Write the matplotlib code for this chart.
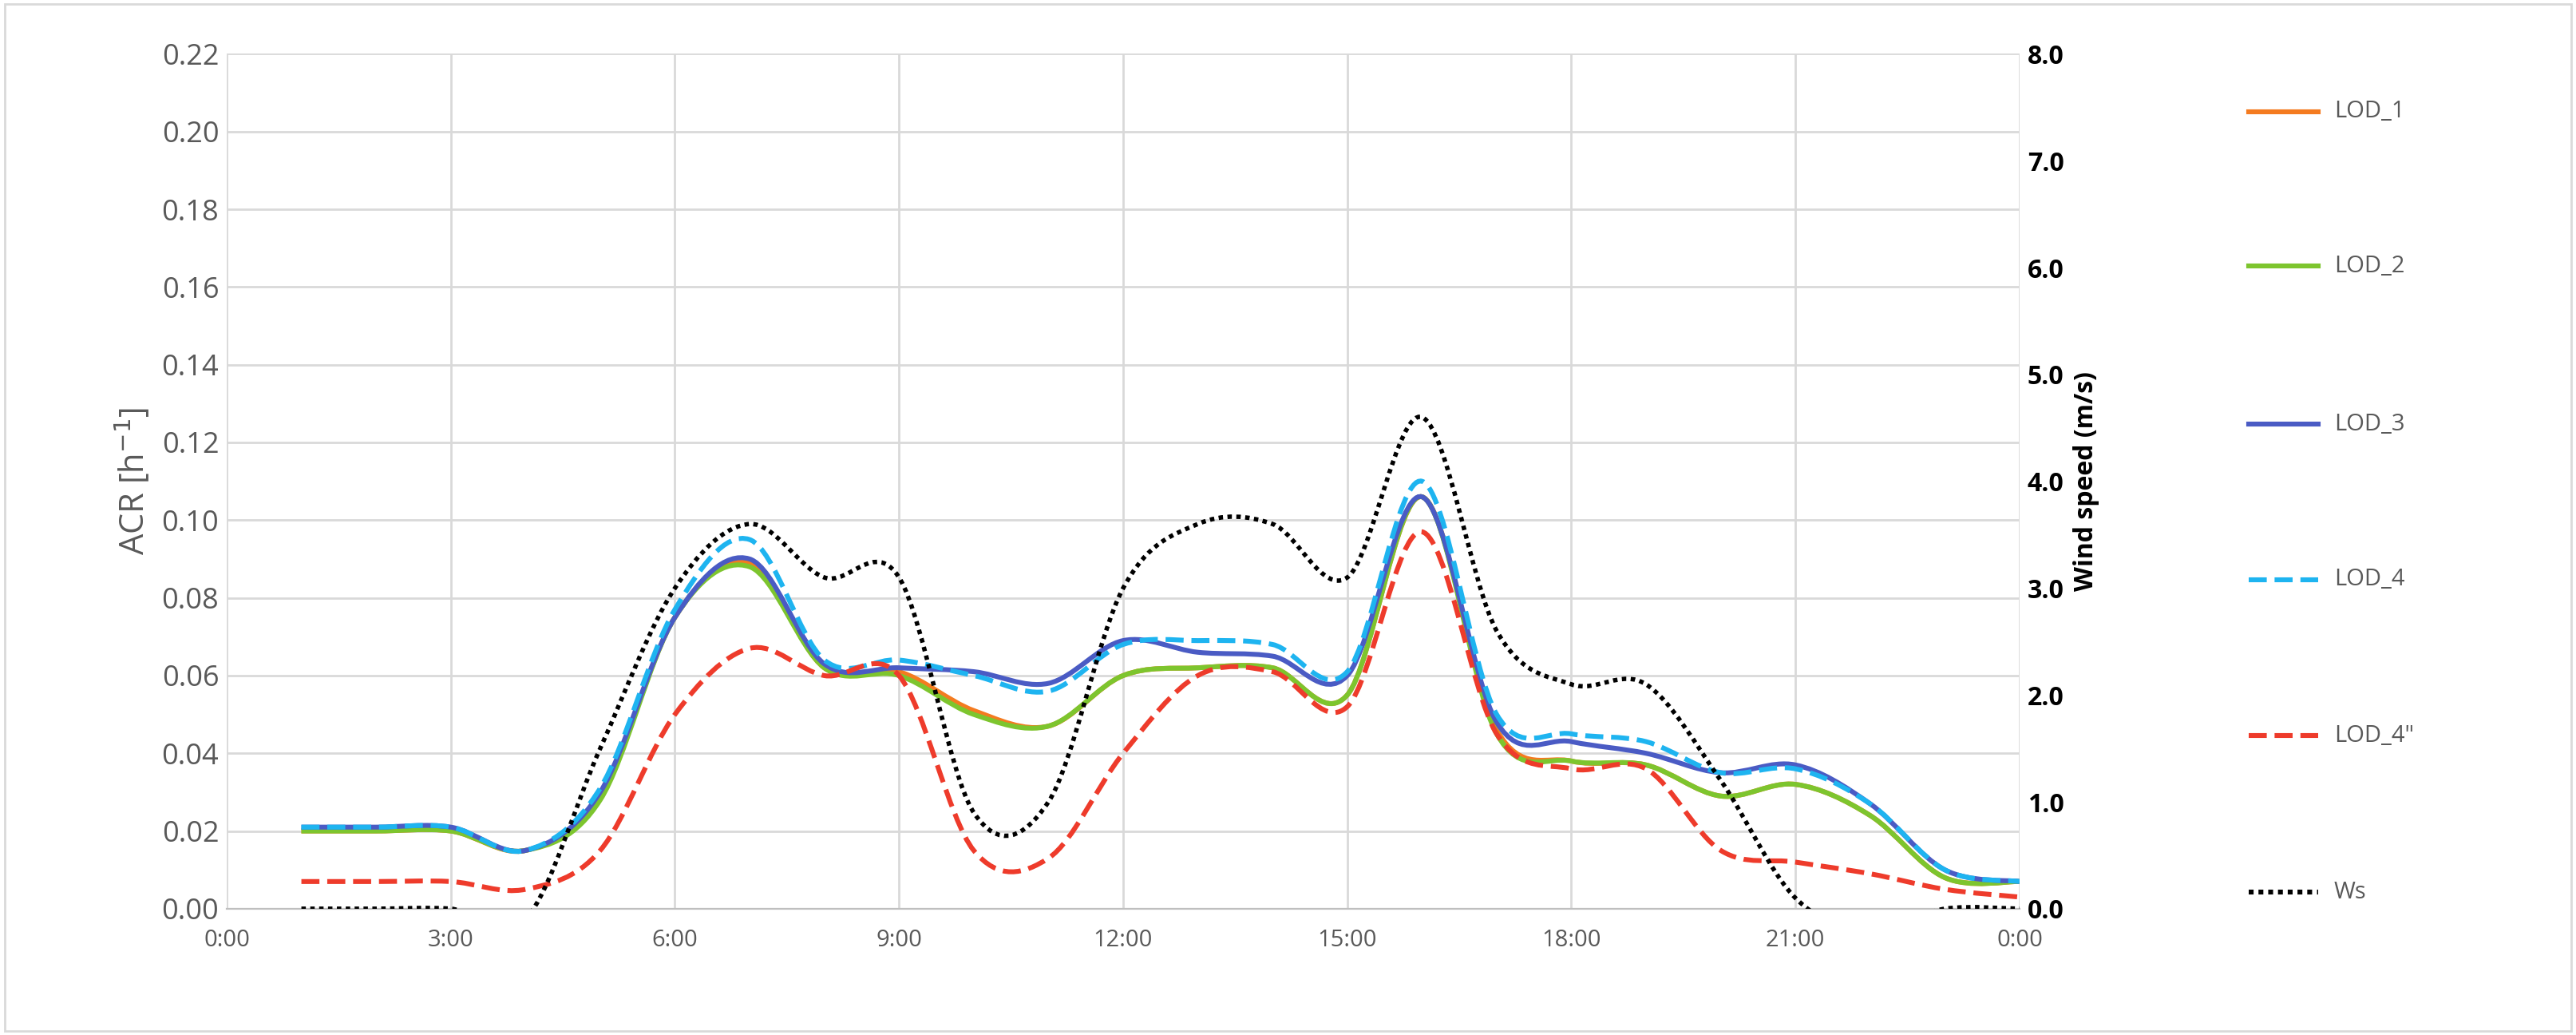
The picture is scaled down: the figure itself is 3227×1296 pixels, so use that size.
import numpy as np
import matplotlib.pyplot as plt
from matplotlib.path import Path
from matplotlib.patches import PathPatch
from matplotlib.lines import Line2D

plt.rcParams['font.family'] = ['Open Sans', 'DejaVu Sans']

hours = np.arange(1, 25)
lod_1 = [0.020, 0.020, 0.020, 0.015, 0.029, 0.075, 0.089, 0.062, 0.061, 0.051, 0.047, 0.060, 0.062, 0.062, 0.055, 0.106, 0.046, 0.038, 0.037, 0.029, 0.032, 0.024, 0.008, 0.007]
lod_2 = [0.020, 0.020, 0.020, 0.015, 0.028, 0.075, 0.088, 0.062, 0.060, 0.050, 0.047, 0.060, 0.062, 0.062, 0.055, 0.106, 0.045, 0.038, 0.037, 0.029, 0.032, 0.024, 0.008, 0.007]
lod_3 = [0.021, 0.021, 0.021, 0.015, 0.030, 0.075, 0.090, 0.063, 0.062, 0.061, 0.058, 0.069, 0.066, 0.065, 0.060, 0.106, 0.048, 0.043, 0.040, 0.035, 0.037, 0.027, 0.010, 0.007]
lod_4 = [0.021, 0.021, 0.021, 0.015, 0.031, 0.077, 0.095, 0.064, 0.064, 0.060, 0.056, 0.068, 0.069, 0.068, 0.061, 0.110, 0.050, 0.045, 0.043, 0.035, 0.036, 0.027, 0.010, 0.007]
lod_4b = [0.007, 0.007, 0.007, 0.005, 0.015, 0.050, 0.067, 0.060, 0.060, 0.015, 0.013, 0.040, 0.060, 0.061, 0.052, 0.097, 0.045, 0.036, 0.036, 0.015, 0.012, 0.009, 0.005, 0.003]
ws = [0.0, 0.0, 0.0, -0.1, 1.5, 3.0, 3.6, 3.1, 3.1, 0.9, 1.0, 3.0, 3.6, 3.6, 3.1, 4.6, 2.6, 2.1, 2.1, 1.2, 0.1, -0.2, 0.0, 0.0]

series = [
    ('LOD_1', lod_1, '#F47B20', '-'),
    ('LOD_2', lod_2, '#7DC52E', '-'),
    ('LOD_3', lod_3, '#4A5BC4', '-'),
    ('LOD_4', lod_4, '#1EB4F0', '--'),
    ('LOD_4"', lod_4b, '#EE3B2B', '--'),
]


def smooth_path(x, y, t=1/6):
    # Catmull-Rom curve through the points, drawn as cubic Beziers (like Excel's smoothed line)
    pts = np.column_stack([x, y])
    verts = [pts[0]]
    codes = [Path.MOVETO]
    for i in range(len(pts) - 1):
        p0 = pts[max(i - 1, 0)]
        p1, p2 = pts[i], pts[i + 1]
        p3 = pts[min(i + 2, len(pts) - 1)]
        verts += [p1 + (p2 - p0) * t, p2 - (p3 - p1) * t, p2]
        codes += [Path.CURVE4] * 3
    return Path(verts, codes)


fig = plt.figure(figsize=(16.135, 6.48), dpi=200)
ax = fig.add_axes([0.088, 0.122, 0.696, 0.826])
ax2 = ax.twinx()

for name, vals, col, ls in series:
    ax.add_patch(PathPatch(smooth_path(hours, vals), fill=False, edgecolor=col, lw=2.2, ls=ls, zorder=3))
ax2.add_patch(PathPatch(smooth_path(hours, ws), fill=False, edgecolor='black', lw=2, ls=(0, (1, 1)), zorder=3))

ax.set_xlim(0, 24)
ax.set_ylim(0, 0.22)
ax2.set_ylim(0, 8)
ax.set_xticks(np.arange(0, 25, 3))
ax.set_xticklabels([f'{h % 24}:00' for h in range(0, 25, 3)], color='#595959', fontsize=10.5)
ax.set_yticks(np.arange(0, 0.221, 0.02))
ax.set_yticklabels([f'{v:.2f}' for v in np.arange(0, 0.221, 0.02)], color='#595959', fontsize=13)
ax2.set_yticks(np.arange(0, 8.1, 1))
ax2.set_yticklabels([f'{v:.1f}' for v in np.arange(0, 8.1, 1)], fontsize=11.5, fontweight='bold')
ax.set_ylabel('ACR [h$^{-1}$]', color='#595959', fontsize=15)
ax2.set_ylabel('Wind speed (m/s)', fontsize=11.5, fontweight='bold')
ax.grid(True, color='#D9D9D9', lw=1)
for a in (ax, ax2):
    for s in a.spines.values():
        s.set_visible(False)
    a.tick_params(length=0)
ax.tick_params(axis='x', pad=9)
ax.spines['bottom'].set_visible(True)
ax.spines['bottom'].set_color('#BFBFBF')

# legend at the right, widely spaced
leg_y = [0.892, 0.743, 0.590, 0.440, 0.289, 0.138]
entries = [(n, c, ls) for n, _, c, ls in series] + [('Ws', 'black', (0, (1, 1)))]
for (name, col, ls), y in zip(entries, leg_y):
    fig.add_artist(Line2D([0.873, 0.9], [y, y], color=col, lw=2.2, ls=ls))
    fig.text(0.906, y, name, va='center', fontsize=10.5, color='#595959')

fig.add_artist(plt.Rectangle((0.002, 0.004), 0.996, 0.992, fill=False, edgecolor='#D9D9D9', lw=1))
fig.savefig('out.png')
